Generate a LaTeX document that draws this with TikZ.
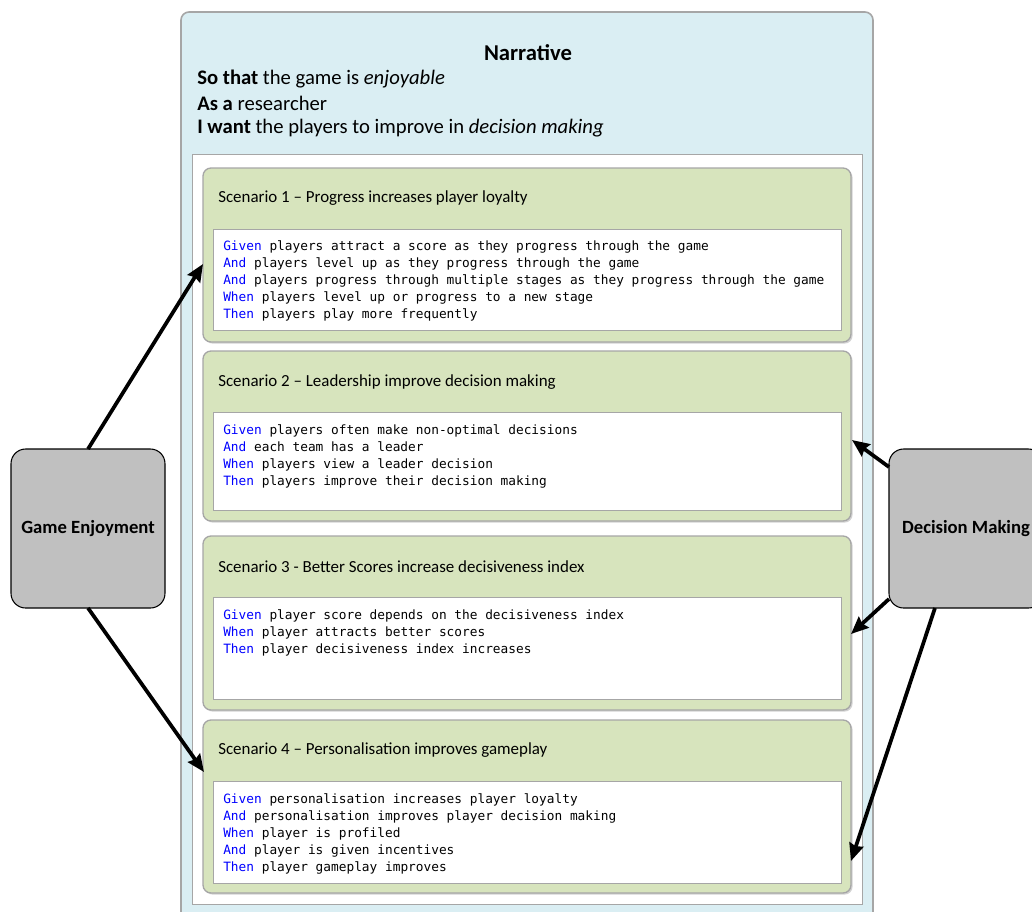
\documentclass[tikz,border=0pt]{standalone}
\usepackage{fontspec}
\setmainfont{Carlito}
\newfontfamily\codefont{DejaVu Sans Mono}
\usetikzlibrary{arrows.meta,shadows,calc}
\newdimen\pxu \pxu=0.75pt
\definecolor{narrfill}{HTML}{DAEEF3}
\definecolor{scenfill}{HTML}{D7E4BD}
\definecolor{boxedge}{HTML}{A6A6A6}
\definecolor{kw}{HTML}{0000FF}
\definecolor{actfill}{HTML}{C0C0C0}
\tikzset{
  box/.style={rectangle,anchor=north west,inner sep=0pt,outer sep=0pt},
  narr/.style={box,fill=narrfill,draw=boxedge,line width=1.2pt,rounded corners=6pt},
  inner/.style={box,fill=white,draw=boxedge,line width=0.6pt},
  scen/.style={box,fill=scenfill,draw=boxedge,line width=1pt,rounded corners=6pt,
     drop shadow={shadow xshift=1.2pt,shadow yshift=-1.2pt,fill=black!35}},
  code/.style={box,fill=white,draw=boxedge,line width=0.6pt},
  codetext/.style={anchor=north west,inner sep=0pt,align=left,
     font=\codefont\fontsize{9.6}{12.75}\selectfont},
  stitle/.style={anchor=west,inner sep=0pt,font=\fontsize{12.7}{15}\selectfont},
  ntext/.style={anchor=west,inner sep=0pt,font=\fontsize{15.5}{18}\selectfont},
  actor/.style={rectangle,draw=black,line width=0.8pt,fill=actfill,rounded corners=11pt,
     minimum width=154\pxu,minimum height=159\pxu,inner sep=0pt,
     font=\bfseries\fontsize{14}{16}\selectfont},
  link/.style={line width=2.8pt,-{Stealth[length=13pt,width=11pt,inset=1.5pt]}},
}
\newcommand{\kw}[1]{\textcolor{kw}{#1}}
\begin{document}
\begin{tikzpicture}[x=0.75pt,y=-0.75pt]
\useasboundingbox (0,0) rectangle (1032,911);
\begin{scope}
\clip (0,0) rectangle (1032,911);
% narrative container
\node[narr,minimum width=692\pxu,minimum height=930\pxu] (narr) at (181,12) {};
\node[font=\bfseries\fontsize{17}{20}\selectfont,inner sep=0pt] (ntitle) at (528,53) {Narrative};
\node[ntext] (l1) at (197,79) {\textbf{So that} the game is \textit{enjoyable}};
\node[ntext] (l2) at (197,103) {\textbf{As a} researcher};
\node[ntext] (l3) at (197,128) {\textbf{I want} the players to improve in \textit{decision making}};
\node[inner,minimum width=670\pxu,minimum height=750\pxu] (inbox) at (192,154) {};

% scenario 1
\node[scen,minimum width=648\pxu,minimum height=174\pxu] (s1) at (203,168) {};
\node[stitle] (s1t) at (218,198) {Scenario 1 -- Progress increases player loyalty};
\node[code,minimum width=628\pxu,minimum height=101\pxu] (c1) at (213,229) {};
\node[codetext] (c1t) at (223,240) {\kw{Given} players attract a score as they progress through the game\\
\kw{And} players level up as they progress through the game\\
\kw{And} players progress through multiple stages as they progress through the game\\
\kw{When} players level up or progress to a new stage\\
\kw{Then} players play more frequently};

% scenario 2
\node[scen,minimum width=648\pxu,minimum height=170\pxu] (s2) at (203,351) {};
\node[stitle] (s2t) at (218,382) {Scenario 2 -- Leadership improve decision making};
\node[code,minimum width=628\pxu,minimum height=98\pxu] (c2) at (213,412) {};
\node[codetext] (c2t) at (223,424) {\kw{Given} players often make non-optimal decisions\\
\kw{And} each team has a leader\\
\kw{When} players view a leader decision\\
\kw{Then} players improve their decision making};

% scenario 3
\node[scen,minimum width=648\pxu,minimum height=174\pxu] (s3) at (203,536) {};
\node[stitle] (s3t) at (218,567) {Scenario 3 - Better Scores increase decisiveness index};
\node[code,minimum width=628\pxu,minimum height=102\pxu] (c3) at (213,597) {};
\node[codetext] (c3t) at (223,609) {\kw{Given} player score depends on the decisiveness index\\
\kw{When} player attracts better scores\\
\kw{Then} player decisiveness index increases};

% scenario 4
\node[scen,minimum width=648\pxu,minimum height=173\pxu] (s4) at (203,720) {};
\node[stitle] (s4t) at (218,750) {Scenario 4 -- Personalisation improves gameplay};
\node[code,minimum width=628\pxu,minimum height=102\pxu] (c4) at (213,781) {};
\node[codetext] (c4t) at (223,793) {\kw{Given} personalisation increases player loyalty\\
\kw{And} personalisation improves player decision making\\
\kw{When} player is profiled\\
\kw{And} player is given incentives\\
\kw{Then} player gameplay improves};

% actors
\node[actor] (ge) at (88,528.5) {Game Enjoyment};
\node[actor] (dm) at (966,528.5) {Decision Making};

% arrow end points
\coordinate (e1) at (203,264);
\coordinate (e2) at (204,772);
\coordinate (e3) at (852,440);
\coordinate (e4) at (851,634);
\coordinate (e5) at (851,861);
\coordinate (g1) at (88,449);
\coordinate (g2) at (88,608);
\coordinate (d1) at (889,467);
\coordinate (d2) at (889,599);
\coordinate (d3) at (935,608);

\draw[link] (g1) -- (e1);
\draw[link] (g2) -- (e2);
\draw[link] (d1) -- (e3);
\draw[link] (d2) -- (e4);
\draw[link] (d3) -- (e5);
\end{scope}
\end{tikzpicture}
\end{document}
